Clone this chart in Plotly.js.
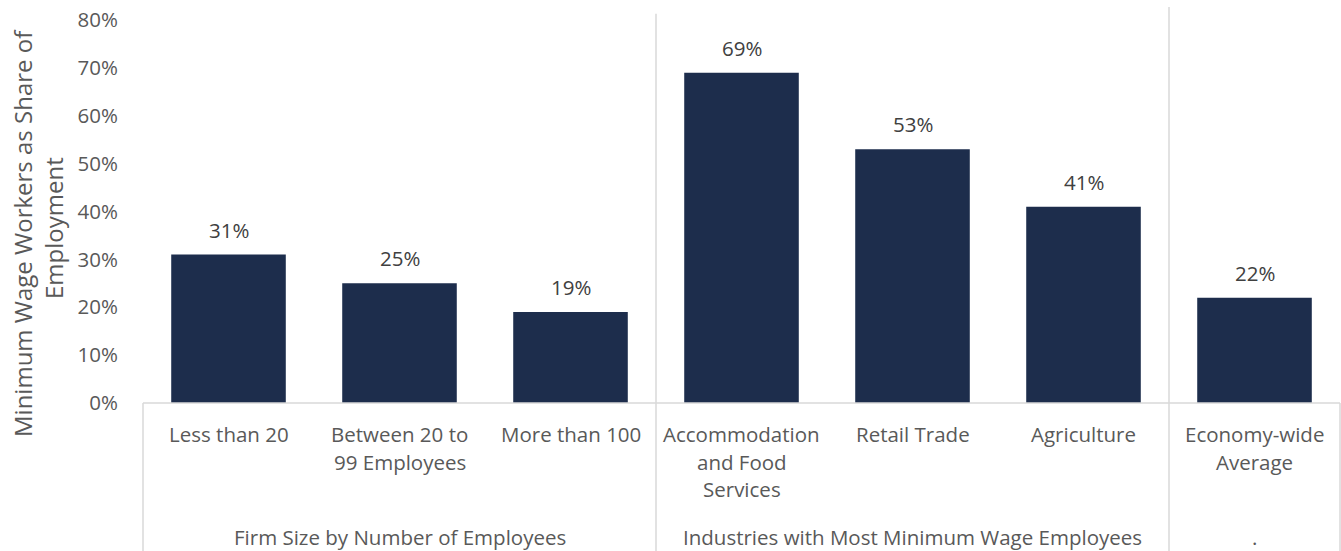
<!DOCTYPE html>
<html>
<head>
<meta charset="utf-8">
<script src="https://cdn.plot.ly/plotly-3.0.1.min.js"></script>
<style>html,body{margin:0;padding:0;background:#fff;}#chart{width:1341px;height:551px;}</style>
</head>
<body>
<div id="chart"></div>
<script>
const categories = ["Less than 20", "Between 20 to<br>99 Employees", "More than 100", "Accommodation<br>and Food<br>Services", "Retail Trade", "Agriculture", "Economy-wide<br>Average"];
const values = [0.31, 0.25, 0.19, 0.69, 0.53, 0.41, 0.22];
const dataLabels = ["31%", "25%", "19%", "69%", "53%", "41%", "22%"];
const groupNames = ["Firm Size by Number of Employees", "Industries with Most Minimum Wage Employees", "."];
const groupSizes = [3, 3, 1];
const yTitleLines = ["Minimum Wage Workers as Share of", "Employment"];

const n = categories.length;
const fontFam = "Open Sans, sans-serif";
const lineColor = "#d9d9d9";
const textColor = "#595959";
const bottomPaper = -148 / 383;
const plotLeft = 143, plotW = 1197, plotTop = 20, plotH = 383;

const annotations = [];
// data labels
values.forEach((v, i) => {
  annotations.push({
    x: categories[i], y: v, xref: 'x', yref: 'y', text: dataLabels[i],
    showarrow: false, yanchor: 'bottom', yshift: 9,
    font: {family: fontFam, size: 20.5, color: '#404040'}
  });
});
// category labels, one annotation per line for Excel-like line spacing
categories.forEach((c, i) => {
  c.split('<br>').forEach((ln, k) => {
    annotations.push({
      x: c, y: 0, xref: 'x', yref: 'paper', text: ln,
      showarrow: false, yanchor: 'middle', xanchor: 'center', yshift: -(31 + k * 27.5),
      font: {family: fontFam, size: 20.5, color: textColor}
    });
  });
});
// group labels
let start = 0;
groupNames.forEach((g, gi) => {
  const mid = (start + groupSizes[gi] / 2) / n;
  annotations.push({
    x: mid, y: 0, xref: 'paper', yref: 'paper', yshift: -134, text: g,
    showarrow: false, yanchor: 'middle', xanchor: 'center',
    font: {family: fontFam, size: 20.5, color: textColor}
  });
  start += groupSizes[gi];
});
// y title lines
const titlePos = [[22, 233], [53, 228]];
yTitleLines.forEach((t, k) => {
  annotations.push({
    x: (titlePos[k][0] - plotLeft) / plotW, y: (plotTop + plotH - titlePos[k][1]) / plotH,
    xref: 'paper', yref: 'paper', text: t, textangle: -90,
    showarrow: false, xanchor: 'center', yanchor: 'middle',
    font: {family: fontFam, size: 24, color: textColor}
  });
});

const shapes = [];
shapes.push({type: 'line', xref: 'paper', yref: 'paper', x0: 0, x1: 1, y0: 0, y1: 0, line: {color: lineColor, width: 1.5}});
shapes.push({type: 'line', xref: 'paper', yref: 'paper', x0: 0, x1: 0, y0: 0, y1: bottomPaper, line: {color: lineColor, width: 1.5}});
shapes.push({type: 'line', xref: 'paper', yref: 'paper', x0: 1, x1: 1, y0: 0, y1: bottomPaper, line: {color: lineColor, width: 1.5}});
const sepTops = [1.016, 1.034];
let acc = 0;
groupSizes.slice(0, -1).forEach((s, i) => {
  acc += s;
  shapes.push({type: 'line', xref: 'paper', yref: 'paper', x0: acc / n, x1: acc / n, y0: sepTops[i], y1: bottomPaper, line: {color: lineColor, width: 1.5}});
});

const trace = {
  type: 'bar', x: categories, y: values,
  marker: {color: '#1d2d4c', line: {width: 0}},
  hoverinfo: 'skip'
};

const layout = {
  width: 1341, height: 551,
  margin: {l: plotLeft, r: 1, t: plotTop, b: 148},
  paper_bgcolor: '#fff', plot_bgcolor: '#fff',
  bargap: 0.33,
  showlegend: false,
  font: {family: fontFam, color: textColor},
  xaxis: {
    type: 'category', range: [-0.5, n - 0.5], showline: false, showgrid: false, zeroline: false,
    ticks: '', showticklabels: false, automargin: false
  },
  yaxis: {
    range: [0, 0.8], dtick: 0.1, tickformat: '.0%', showgrid: false, zeroline: false, showline: false,
    ticks: '', tickfont: {family: fontFam, size: 20.5, color: textColor}, ticklabelstandoff: 24, automargin: false
  },
  annotations: annotations,
  shapes: shapes
};

Plotly.newPlot('chart', [trace], layout, {displayModeBar: false, staticPlot: true});
</script>
</body>
</html>
